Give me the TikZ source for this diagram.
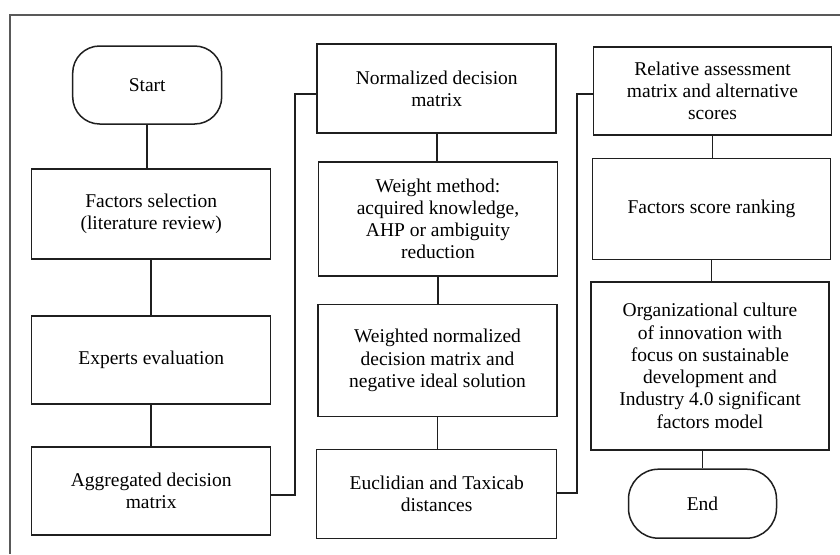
\documentclass[tikz,border=0pt]{standalone}
\usepackage{fontspec}
\setmainfont{Liberation Serif}
\begin{document}
\begin{tikzpicture}[x=1pt,y=-1pt,
  every node/.style={font=\fontsize{19.5}{22.3}\selectfont, align=center, inner sep=0pt},
  box/.style={draw=black!88, line width=1.5pt, rectangle},
  term/.style={draw=black!88, line width=1.5pt, rectangle, rounded corners=27pt},
  conn/.style={draw=black!88, line width=1.6pt}]
\useasboundingbox (0,0) rectangle (840,554);
\fill[white] (0,0) rectangle (840,554);
\draw[black!65, line width=1.6pt] (840,15) -- (10,15) -- (10,554);
% column 1
\node[term, minimum width=149pt, minimum height=78pt] (start) at (147.2,85) {Start};
\node[box, minimum width=239pt, minimum height=90pt] (fs) at (151.2,214) {Factors selection\\(literature review)};
\node[box, minimum width=239pt, minimum height=88pt] (ee) at (151.2,360) {Experts evaluation};
\node[box, minimum width=239pt, minimum height=88pt] (ad) at (151.2,491) {Aggregated decision\\matrix};
% column 2
\node[box, minimum width=239pt, minimum height=89pt] (nd) at (436.7,88.7) {Normalized decision\\matrix};
\node[box, minimum width=239pt, minimum height=114pt] (wm) at (438,218.8) {Weight method:\\acquired knowledge,\\AHP or ambiguity\\reduction};
\node[box, minimum width=239pt, minimum height=112pt] (wn) at (437.5,360.5) {Weighted normalized\\decision matrix and\\negative ideal solution};
\node[box, minimum width=240pt, minimum height=89pt] (et) at (436.7,493.8) {Euclidian and Taxicab\\distances};
% column 3
\node[box, minimum width=238pt, minimum height=88pt] (ra) at (712.5,90.8) {Relative assessment\\matrix and alternative\\scores};
\node[box, minimum width=238pt, minimum height=101pt] (sr) at (711.5,208.8) {Factors score ranking};
\node[box, minimum width=238pt, minimum height=168pt] (oc) at (710,365.8) {Organizational culture\\of innovation with\\focus on sustainable\\development and\\Industry 4.0 significant\\factors model};
\node[term, minimum width=148pt, minimum height=69pt, rounded corners=30pt] (en) at (702.5,503.7) {End};
% junction coordinates
\coordinate (j1) at (294.7,0);
\coordinate (j2) at (576.7,0);
% connectors
\draw[conn] (start.south) -- (start.south |- fs.north);
\draw[conn] (fs.south) -- (fs.south |- ee.north);
\draw[conn] (ee.south) -- (ee.south |- ad.north);
\draw[conn] ([yshift=-4pt]ad.east) -- ([yshift=-4pt]ad.east -| j1) |- ([yshift=-5pt]nd.west);
\draw[conn] (nd.south) -- (nd.south |- wm.north);
\draw[conn] (wm.south) -- (wm.south |- wn.north);
\draw[conn] (wn.south) -- (wn.south |- et.north);
\draw[conn] ([yshift=1pt]et.east) -- ([yshift=1pt]et.east -| j2) |- ([yshift=-3pt]ra.west);
\draw[conn] (ra.south) -- (ra.south |- sr.north);
\draw[conn] (sr.south) -- (sr.south |- oc.north);
\draw[conn] (en.north) -- (en.north |- oc.south);
\end{tikzpicture}
\end{document}
